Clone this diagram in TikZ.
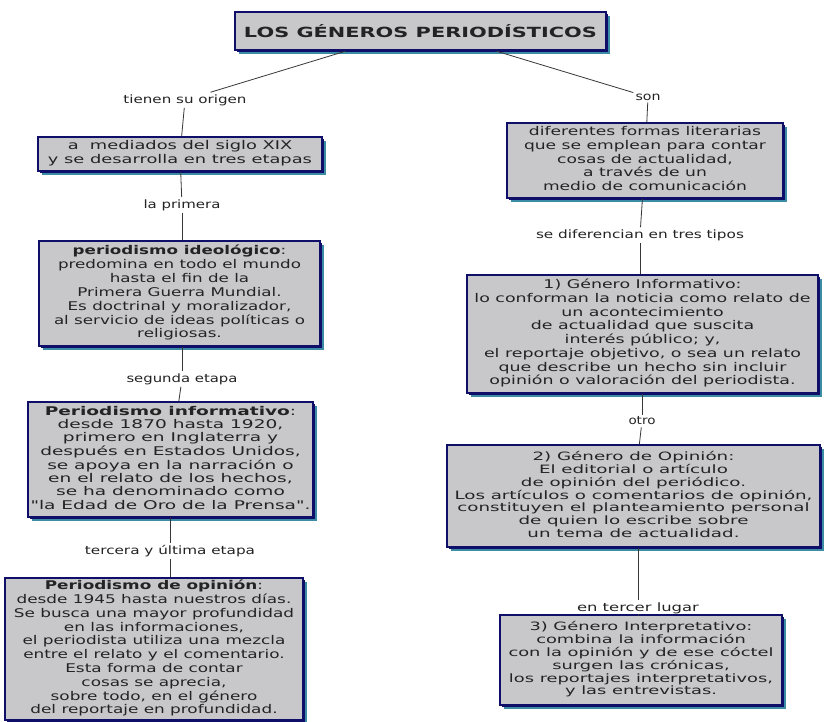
\documentclass[tikz,border=0pt]{standalone}
\usepackage{fontspec}
\setmainfont{DejaVu Sans}
\newfontfamily\qfont{DejaVu Sans}[Ligatures=TeXOff]
\usetikzlibrary{shadows}
\definecolor{boxfill}{RGB}{200,200,202}
\definecolor{boxline}{RGB}{15,15,105}
\definecolor{shteal}{RGB}{60,140,165}
\definecolor{txt}{RGB}{35,35,35}
\definecolor{conn}{RGB}{55,55,55}
\newcommand{\fitw}[2]{\resizebox{#1pt}{\height}{#2}}
\newcommand{\lns}[3]{\fontsize{#1}{#2}\selectfont\begin{tabular}{@{}c@{}}#3\end{tabular}}
\newcommand{\sq}{{\qfont"}}
\tikzset{
  cbox/.style={draw=boxline, line width=1.6pt, fill=boxfill, inner sep=0pt, text=txt,
    drop shadow={shadow xshift=4pt, shadow yshift=-4pt, fill=shteal, opacity=1},
    drop shadow={shadow xshift=2pt, shadow yshift=-2pt, fill=boxline, opacity=1}},
  tbox/.style={cbox, line width=2.4pt},
  lbl/.style={inner sep=2pt, text=txt, font=\fontsize{11.5}{13}\selectfont},
  conn/.style={draw=conn, line width=0.8pt}
}
\begin{document}
\begin{tikzpicture}[x=1pt,y=-1pt]
\fill[white] (0,0) rectangle (825,721);
\useasboundingbox (0,0) rectangle (825,721);

% title
\node[tbox, minimum width=371pt, minimum height=38pt] (title) at (420.5,31)
  {\fitw{353}{\fontsize{14}{16}\selectfont\bfseries LOS GÉNEROS PERIODÍSTICOS}};

% left column
\node[lbl] (l1) at (185,100) {\fitw{123}{tienen su origen}};
\node[cbox, minimum width=284pt, minimum height=34pt] (b1) at (180,154)
  {\fitw{264}{\lns{12}{14}{a\ \ mediados del siglo XIX\\y se desarrolla en tres etapas}}};
\node[lbl] (l2) at (182,205) {\fitw{77}{la primera}};
\node[cbox, minimum width=281pt, minimum height=105pt] (b2) at (179.5,293.5)
  {\fitw{251}{\lns{12}{13.9}{\textbf{periodismo ideológico}:\\predomina en todo el mundo\\hasta el fin de la\\Primera Guerra Mundial.\\Es doctrinal y moralizador,\\al servicio de ideas políticas o\\religiosas.}}};
\node[lbl] (l3) at (182,379) {\fitw{111}{segunda etapa}};
\node[cbox, minimum width=285pt, minimum height=115pt] (b3) at (170.5,459.5)
  {\fitw{280}{\lns{12}{13.3}{\textbf{Periodismo informativo}:\\desde 1870 hasta 1920,\\primero en Inglaterra y\\después en Estados Unidos,\\se apoya en la narración o\\en el relato de los hechos,\\se ha denominado como\\\sq la Edad de Oro de la Prensa\sq.}}};
\node[lbl] (l4) at (170,551) {\fitw{170}{tercera y última etapa}};
\node[cbox, minimum width=298pt, minimum height=142pt] (b4) at (154,649)
  {\fitw{280}{\lns{12}{13.8}{\textbf{Periodismo de opinión}:\\desde 1945 hasta nuestros días.\\Se busca una mayor profundidad\\en las informaciones,\\el periodista utiliza una mezcla\\entre el relato y el comentario.\\Esta forma de contar\\cosas se aprecia,\\sobre todo, en el género\\del reportaje en profundidad.}}};

% right column
\node[lbl] (l5) at (648,97) {\fitw{25}{son}};
\node[cbox, minimum width=276pt, minimum height=75pt] (r0) at (645,160.5)
  {\fitw{242}{\lns{12}{13.7}{diferentes formas literarias\\que se emplean para contar\\cosas de actualidad,\\a través de un\\medio de comunicación}}};
\node[lbl] (l6) at (640,235) {\fitw{208}{se diferencian en tres tipos}};
\node[cbox, minimum width=351pt, minimum height=118pt] (r1) at (642.5,334)
  {\fitw{336}{\lns{12}{13.7}{1) Género Informativo:\\lo conforman la noticia como relato de\\un acontecimiento\\de actualidad que suscita\\interés público; y,\\el reportaje objetivo, o sea un relato\\que describe un hecho sin incluir\\opinión o valoración del periodista.}}};
\node[lbl] (l7) at (642,421) {\fitw{27}{otro}};
\node[cbox, minimum width=373pt, minimum height=102pt] (r2) at (633.5,496)
  {\fitw{358}{\lns{11.5}{12.7}{2) Género de Opinión:\\El editorial o artículo\\de opinión del periódico.\\Los artículos o comentarios de opinión,\\constituyen el planteamiento personal\\de quien lo escribe sobre\\un tema de actualidad.}}};
\node[lbl] (l8) at (638,608) {\fitw{122}{en tercer lugar}};
\node[cbox, minimum width=282pt, minimum height=90pt] (r3) at (641,660)
  {\fitw{265}{\lns{11.5}{12.7}{3) Género Interpretativo:\\combina la información\\con la opinión y de ese cóctel\\surgen las crónicas,\\los reportajes interpretativos,\\y las entrevistas.}}};

% connectors
\draw[conn] ([xshift=-75pt]title.south) -- (l1);
\draw[conn] (l1) -- (b1);
\draw[conn] (b1) -- (l2);
\draw[conn] (l2) -- (l2 |- b2.north);
\draw[conn] (l3 |- b2.south) -- (l3);
\draw[conn] (l3) -- (b3);
\draw[conn] (l4 |- b3.south) -- (l4);
\draw[conn] (l4) -- (l4 |- b4.north);

\draw[conn] ([xshift=76pt]title.south) -- (l5);
\draw[conn] (l5) -- (r0);
\draw[conn] (r0) -- (l6);
\draw[conn] (l6) -- (l6 |- r1.north);
\draw[conn] (l7 |- r1.south) -- (l7);
\draw[conn] (l7) -- (r2);
\draw[conn] (l8 |- r2.south) -- (l8);
\draw[conn] (l8) -- (l8 |- r3.north);
\end{tikzpicture}
\end{document}
